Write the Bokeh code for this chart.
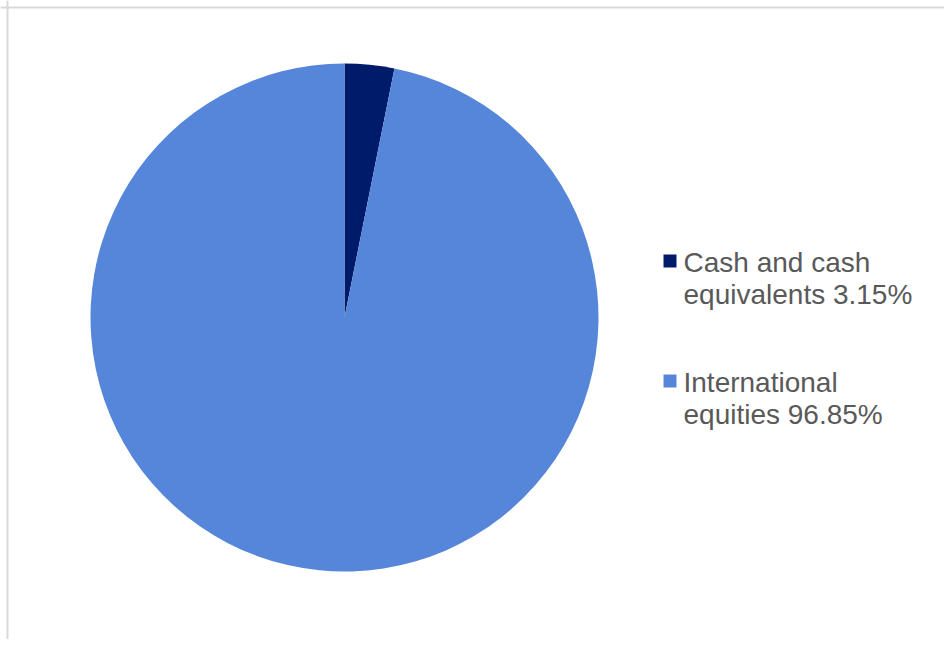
import numpy as np
from bokeh.plotting import figure
from bokeh.models import Range1d, ColumnDataSource, Span
from bokeh.core.properties import value
from bokeh.embed import file_html
from bokeh.resources import INLINE

# ---- data ----
categories = ["Cash and cash equivalents", "International equities"]
values = [3.15, 96.85]
legend_lines = [["Cash and cash", "equivalents 3.15%"], ["International", "equities 96.85%"]]
colors = ["#001B69", "#5686DA"]

# ---- figure in image-pixel coordinates (y negated) ----
W, H = 944, 639
p = figure(width=W, height=H, output_backend="svg", toolbar_location=None,
           x_range=Range1d(0, W), y_range=Range1d(-H, 0),
           min_border=0, outline_line_color=None)
p.axis.visible = False
p.grid.visible = False
p.background_fill_color = "white"
p.border_fill_color = "white"

# border (top and left; right/bottom clipped in reference)
p.add_layout(Span(location=-7, dimension="width", line_color="#D9D9D9", line_width=2))
p.add_layout(Span(location=7, dimension="height", line_color="#D9D9D9", line_width=2))

# pie
vals = np.array(values, dtype=float)
frac = vals / vals.sum()
cum = np.concatenate([[0.0], np.cumsum(frac)])
start = np.pi / 2 - 2 * np.pi * cum[:-1]
end = np.pi / 2 - 2 * np.pi * cum[1:]
src = ColumnDataSource(dict(start=start, end=end, color=colors, cat=categories))
p.wedge(x=344, y=-317, radius=254, start_angle="start", end_angle="end",
        direction="clock", fill_color="color", line_color=None, source=src)

# legend (manual)
item_top = [-254, -374]
for i, lines in enumerate(legend_lines):
    p.rect(x=[669.5], y=[item_top[i] - 6.5], width=13, height=13,
           fill_color=colors[i], line_color=None)
    for j, line in enumerate(lines):
        baseline = item_top[i] - 8 - 32 * j
        p.text(x=[683], y=[baseline], text=[line], text_font=value("Liberation Sans"),
               text_font_size="28px", text_color="#595959",
               text_align="left", text_baseline="alphabetic")

open("out.html", "w").write(file_html(p, INLINE))
